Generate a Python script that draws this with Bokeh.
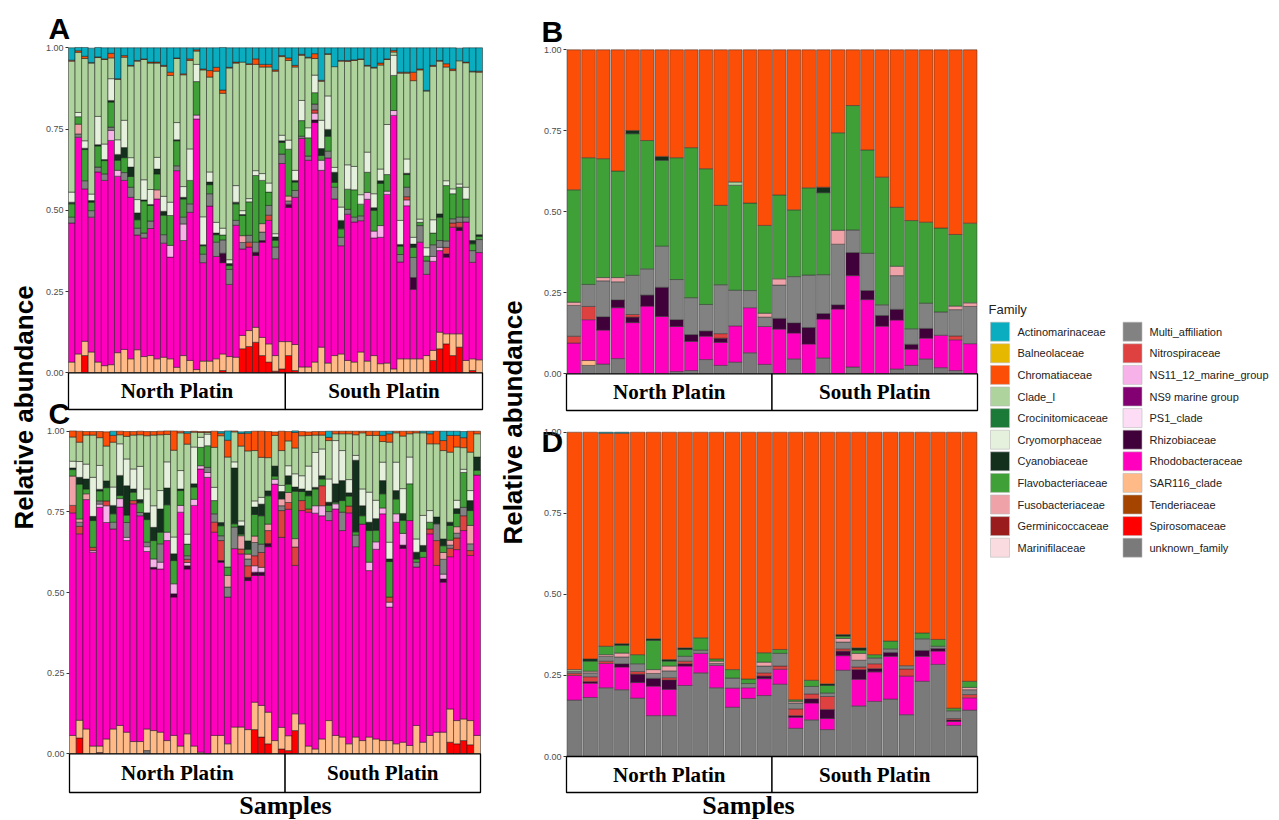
import math
from bokeh.plotting import figure
from bokeh.models import (Range1d, NumeralTickFormatter, FixedTicker, ColumnDataSource,
                          LinearAxis)
from bokeh.core.properties import value
from bokeh.embed import file_html
from bokeh.resources import INLINE

# ---------------- legend / families ----------------
FAMILIES = ["Actinomarinaceae", "Balneolaceae", "Chromatiaceae", "Clade_I", "Crocinitomicaceae",
            "Cryomorphaceae", "Cyanobiaceae", "Flavobacteriaceae", "Fusobacteriaceae",
            "Germinicoccaceae", "Marinifilaceae", "Multi_affiliation", "Nitrospiraceae",
            "NS11_12_marine_group", "NS9 marine group", "PS1_clade", "Rhizobiaceae",
            "Rhodobacteraceae", "SAR116_clade", "Tenderiaceae", "Spirosomaceae", "unknown_family"]
COLORS = ["#0AADBF", "#E7B800", "#FC4E07", "#AED39C", "#1B7A37",
          "#E6F1DD", "#12301C", "#3FA037", "#EFA3A8",
          "#9B1C1C", "#FADCE0", "#828282", "#DF4040",
          "#F8B2EA", "#820071", "#FCDDF5", "#40003A",
          "#FF00BF", "#FFBA88", "#A54400", "#FF0000", "#7A7A7A"]
GROUPS = ["North Platin", "South Platin"]

# ---------------- Panel A (33 North + 30 South samples) ----------------
A_counts = [33, 30]
A_actino = [.038,.010,.027,.044,.029,.034,.017,.095,.024,.054,.039,.034,.044,.044,.054,.075,.031,.080,.034,.006,.065,.070,.060,.131,.060,.044,.044,.049,.034,.051,.051,.068,.024,
            .031,.054,.020,.029,.018,.100,.018,.058,.039,.039,.037,.034,.054,.060,.047,.034,.008,.075,.075,.075,.065,.131,.054,.039,.049,.065,.039,.044,.072,.072]
A_chromat = [.003,.005,.007,.002,.002,.002,.014,.002,.005,.002,.002,.002,.003,.003,.003,.010,.002,.003,.005,.004,.003,.020,.012,.010,.002,.003,0,.002,.017,.008,.008,.004,.003,
             .008,.005,.003,.002,.015,.003,.002,0,.002,.003,.002,.002,.002,.002,.006,.002,.005,.003,.003,.026,.003,.002,.003,.002,.010,.005,0,.002,.002,.003]
A_clade = [.403,.185,.253,.403,.181,.260,.064,.186,.194,.282,.426,.370,.389,.290,.400,.390,.197,.344,.272,.041,.452,.292,.465,.415,.590,.377,.457,.413,.327,.328,.357,.500,.242,
           .245,.318,.139,.215,.051,.120,.128,.310,.449,.318,.326,.416,.265,.387,.320,.200,.010,.453,.264,.482,.459,.482,.472,.470,.350,.364,.379,.383,.519,.500]
A_cryo = [.031,.013,.023,.020,.087,.048,.067,.045,.084,.029,.041,.062,.046,.036,.046,.041,.053,.033,.097,.053,.086,.031,.033,.021,.012,.051,.012,.010,.015,.021,.028,.010,.017,
          .028,.031,.062,.031,.054,.087,.103,.015,.041,.075,.072,.029,.062,.043,.036,.154,.062,.074,.044,.021,.010,.026,.041,0,.015,.015,.010,.036,0,0]
A_cyano = [.005,0,.004,.005,.004,.003,.005,.018,.031,.029,.021,.003,.003,.015,.012,0,.003,.005,0,0,.003,.008,.005,0,.006,.005,.003,0,0,0,0,.010,.005,
           0,.005,0,0,0,.021,.021,.031,.026,0,0,0,0,.008,.008,0,0,.005,.004,.010,0,0,0,.010,0,0,0,0,.010,.005]
A_flavo = [.041,.023,.096,.026,.065,.041,.077,.031,.046,.033,.026,.099,.048,.049,.060,.092,.077,.056,.072,.103,.026,.028,.023,.015,.012,.051,.062,.103,.205,.133,.041,.021,.036,
           .144,.026,.048,.056,.035,.015,.046,.015,.026,.062,.084,.036,.062,.064,.130,.051,.108,.026,.039,.031,.010,.015,.036,.072,.170,.077,.092,.056,.021,.010]
A_fuso = [0,.030,0,0,0,0,0,0,0,0,0,0,0,.028,0,0,0,0,0,0,0,0,0,0,0,0,.021,0,0,.026,0,0,0,
          .015,0,0,0,0,0,0,0,0,0,0,0,0,0,0,0,0,0,0,0,0,0,0,0,0,0,0,0,0,0]
A_multi = [.018,.010,.025,.020,.015,.020,.010,0,.024,.031,.021,.015,.023,0,.026,0,.015,.021,.026,0,.026,.038,.044,.041,.046,.015,.020,.021,.031,.026,.030,.036,.029,
           .010,.021,.007,.013,.018,0,.021,.036,.026,.015,.015,.015,0,0,0,0,0,.023,.029,.062,.051,.041,.036,.021,.020,.013,.016,.015,.036,.040]
A_nitro = [0,0,0,0,0,0,0,0,0,0,0,0,0,0,0,0,0,0,0,0,0,0,0,0,0,0,0,.015,0,0,.016,0,0,
           0,0,0,0,.010,0,0,0,0,0,0,0,0,0,0,0,0,0,.010,0,0,0,0,0,.020,.013,.015,0,0,0]
A_ns11 = [0,0,0,0,0,0,.031,.018,0,0,0,0,0,0,0,.036,0,.051,0,.012,0,0,0,0,0,0,0,0,0,0,0,0,0,
          0,0,0,0,.021,.031,0,0,0,0,0,0,.021,.021,.036,.010,.015,0,.018,0,0,0,.015,.010,0,0,0,0,0,0]
A_rhizo = [0,0,0,0,0,0,0,0,0,0,0,0,0,0,0,0,0,0,0,0,0,0,0,.029,0,0,0,0,.010,.005,0,0,0,
           .010,0,0,0,.008,0,0,0,0,0,0,0,0,0,0,0,0,0,0,.036,0,0,0,0,.010,0,.010,0,0,0]
A_rhodo = [.428,.667,.469,.415,.585,.570,.690,.543,.520,.497,.353,.365,.391,.492,.351,.313,.605,.354,.456,.771,.303,.477,.315,.281,.222,.406,.266,.257,.221,.293,.380,.298,.548,
           .413,.453,.703,.636,.737,.544,.631,.482,.333,.450,.431,.404,.498,.362,.389,.519,.780,.298,.471,.214,.359,.250,.274,.251,.236,.328,.318,.426,.297,.330]
A_sar116 = [.033,.058,.044,.064,.033,.022,.025,.062,.072,.043,.071,.050,.053,.043,.048,.043,.017,.053,.038,.010,.036,.036,.043,.051,.050,.048,.041,.049,.046,.056,.056,.048,.084,
            .043,.080,.018,.018,.033,.079,.030,.053,.058,.038,.033,.064,.036,.053,.028,.030,.012,.043,.043,.043,.043,.053,.031,.051,.031,.067,.041,.038,.036,.040]
A_spiro = [0,0,.053,0,0,0,0,0,0,0,0,0,0,0,0,0,0,0,0,0,0,0,0,.007,0,0,.074,.081,.094,.053,.033,.005,.012,
           .053,.007,0,0,0,0,0,0,0,0,0,0,0,0,0,0,0,0,0,0,0,0,.038,.074,.089,.053,.079,0,.007,0]

# ---------------- Panel C (32 North + 29 South samples) ----------------
C_counts = [32, 29]
C_actino = [0,0,0,0,0,0,.013,0,0,0,0,0,0,0,0,0,0,.005,0,0,0,0,.005,.029,0,.005,.005,0,0,0,0,0,
            0,.005,0,0,0,0,.019,0,0,0,0,0,0,0,.013,.008,0,0,0,0,.005,.008,0,.029,.013,.013,.019,0,0]
C_chromat = [.019,.034,.011,.011,.019,.044,.021,.011,.015,.011,.011,.013,.011,.011,.011,.060,.005,.034,.003,.003,.003,.050,.008,.052,.003,.039,.055,.060,.081,.081,.011,.060,
             .029,.048,.013,.011,.011,.011,.010,.008,.008,.008,.011,.005,.013,.013,.019,.026,.005,.015,.008,.005,0,.031,.039,.031,.052,.036,.031,.065,.008]
C_clade = [.075,.060,.090,.131,.086,.108,.139,.028,.070,.105,.098,.165,.219,.173,.085,.269,.117,.279,.046,.015,.005,.124,.269,.341,.093,.232,.279,.156,.124,.103,.095,.108,
           .077,.080,.124,.095,.054,.043,.119,.021,.052,.142,.064,.174,.176,.201,.064,.310,.091,.163,.072,.329,.256,.207,.227,.274,.217,.165,.067,.119,.072]
C_cryo = [.021,.049,.046,.121,.074,0,.057,.098,.083,.062,.103,.074,.067,.057,.081,.052,.057,.031,.114,.031,.036,.041,0,0,.019,.015,0,.019,.021,0,0,.019,
          .031,.041,.041,.077,.108,.083,.072,.134,.093,.041,.015,.052,.093,.057,.057,.052,.088,.077,.083,.041,.093,.036,0,0,0,.026,.010,.031,0]
C_cyano = [.005,.021,.031,.013,.005,.021,.026,.062,.091,.010,.010,.021,.041,.072,.052,.021,.005,0,.010,0,0,0,.010,0,.173,.026,.026,.023,.036,.015,.031,.023,
           .026,.013,.008,.015,.005,.010,.010,.057,.062,.010,.222,.031,.026,.036,.041,.008,.026,.021,0,.021,.019,0,.021,.021,.010,.015,0,.031,.041]
C_flavo = [.020,.108,.015,.083,.031,.041,.026,.010,.023,.026,.030,.070,.057,.036,.085,.072,.046,.036,.038,.057,.067,.041,.031,.026,.010,.005,.015,.067,.088,.088,.010,0,
           .026,.147,.028,.041,.052,.021,.019,.005,.036,.031,.010,.026,.098,.036,.044,.110,.046,.041,.114,.010,.018,.021,0,.021,.046,.041,.108,.046,.015]
C_fuso = [.091,.010,.018,0,0,0,0,0,0,0,0,0,0,0,0,0,0,0,0,0,0,0,0,.036,0,.041,.015,.020,0,.020,0,.021,
          .031,.026,0,0,0,0,0,0,0,0,0,0,0,0,0,0,0,0,0,0,0,0,0,.021,.015,.020,0,.057,0]
C_multi = [0,.013,0,0,.010,0,.021,0,.046,0,.010,.014,0,.057,0,0,0,.011,0,0,.016,.026,.015,.031,.067,0,.021,.041,.026,0,0,.015,
           0,0,0,0,0,0,.028,0,.057,0,.036,0,0,0,0,0,0,0,0,.015,0,0,.052,.046,.010,.015,.026,.021,0]
C_nitro = [.023,.023,0,.010,0,.015,0,0,0,.010,0,0,0,0,0,0,0,.010,0,0,0,.031,.062,0,0,.015,.036,.031,.046,.040,0,.083,
           .021,.057,.031,.010,0,.062,0,0,0,.021,0,0,0,0,0,.016,0,0,0,0,0,.015,.077,0,.026,.036,.046,.015,0]
C_ns11 = [0,0,0,.005,.010,.052,0,.026,.010,0,0,.015,.026,.021,.026,.031,.021,.010,.019,.010,.015,0,0,0,0,0,0,.020,.015,0,.015,0,
          0,0,0,0,.023,.031,0,.016,0,0,0,0,.026,.023,.018,.015,.026,.036,0,0,0,0,0,.015,0,0,0,0,0]
C_rhizo = [0,0,0,0,0,0,0,0,0,0,0,0,.005,0,0,.010,0,.010,0,0,0,0,.005,0,0,0,.010,.010,.010,.010,0,0,
           0,0,0,0,0,0,0,0,0,0,0,0,0,0,0,0,0,.010,0,0,0,0,0,.010,0,0,0,0,0]
C_rhodo = [.690,.578,.711,.601,.740,.671,.620,.677,.594,.737,.700,.550,.501,.506,.620,.429,.725,.511,.746,.878,.857,.630,.537,.455,.553,.537,.462,.393,.403,.513,.795,.589,
           .702,.460,.661,.725,.731,.692,.620,.702,.640,.716,.590,.671,.516,.588,.703,.414,.687,.601,.697,.491,.573,.625,.517,.465,.472,.530,.584,.512,.807]
C_sar116 = [.057,.055,.077,.024,.020,.046,.077,.088,.067,.038,.038,.067,.072,.067,.041,.057,.024,.062,.024,.005,0,.057,.057,.031,.083,.083,.075,.085,.098,.098,.041,.067,
            .046,.052,.093,.024,.015,.046,.103,.057,.052,.031,.052,.041,.052,.046,.041,.041,.031,.036,.026,.088,.036,.057,.067,.067,.103,.072,.067,.075,.057]
C_spiro = [0,.049,0,0,.004,0,0,0,0,0,0,0,0,0,0,0,0,0,0,0,0,0,0,0,0,0,0,.075,.052,.031,0,.015,
           .010,.072,0,0,0,0,0,0,0,0,0,0,0,0,0,0,0,0,0,0,0,0,0,0,.036,.031,.041,.028,0]
C_unknown = [0,0,0,0,0,0,0,0,0,0,0,.010,0,0,0,0,0,0,0,0,0,0,0,0,0,0,0,0,0,0,0,0,
             0,0,0,0,0,0,0,0,0,0,0,0,0,0,0,0,0,0,0,0,0,0,0,0,0,0,0,0,0]

# ---------------- Panel B (14 North + 14 South samples) ----------------
B_counts = [14, 14]
B_chromat = [.432,.333,.336,.374,.249,.280,.329,.333,.302,.367,.480,.408,.473,.542,
             .448,.494,.426,.424,.256,.172,.309,.393,.486,.527,.532,.550,.570,.535]
B_clade = [0,0,0,0,0,0,0,0,0,0,0,.010,0,0, 0,0,0,0,0,0,0,0,0,0,0,0,0,0]
B_cyano = [0,0,0,0,.010,0,.012,0,0,0,0,0,0,0, 0,0,0,.017,0,0,0,0,0,0,0,0,0,0]
B_flavo = [.347,.391,.367,.329,.437,.396,.265,.376,.463,.419,.245,.324,.270,.271,
           .259,.206,.269,.253,.301,.384,.319,.394,.182,.334,.250,.259,.221,.246]
B_fuso = [.010,0,.010,.013,0,0,0,0,0,0,0,0,0,.012, .019,0,0,0,.043,0,0,0,.029,0,0,0,.011,.011]
B_multi = [.095,.068,.111,.056,.121,.081,.127,.124,.114,.082,.151,.110,.053,.029,
           .103,.143,.162,.120,.187,.070,.115,.033,.104,.048,.078,.072,.081,.115]
B_nitro = [.021,.041,0,0,.008,0,0,0,0,0,.014,0,0,0, 0,0,0,0,0,0,0,0,0,0,0,0,.012,0]
B_rhizo = [0,0,.041,.024,.017,.034,.090,.021,.021,.016,.013,0,0,0,
           .033,.031,.051,.017,.013,.071,.028,.033,.033,.015,.030,0,0,0]
B_rhodo = [.095,.126,.105,.157,.158,.209,.177,.139,.090,.072,.071,.112,.139,.117,
           .138,.080,.092,.120,.200,.282,.229,.147,.151,.050,.064,.100,.095,.093]
B_sar116 = [0,.015,0,0,0,0,0,0,0,0,0,0,0,0, 0,0,0,0,0,0,0,0,0,0,0,0,0,0]
B_unknown = [0,.026,.030,.047,0,0,0,.007,.010,.044,.026,.036,.065,.029,
             0,.046,0,.049,0,.021,0,0,.015,.026,.046,.019,.010,0]

# ---------------- Panel D (13 North + 13 South samples) ----------------
D_counts = [13, 13]
D_actino = [0,0,.003,.003,0,0,0,0,0,0,0,0,0, 0,0,0,0,0,0,0,0,0,0,0,0,0]
D_chromat = [.732,.699,.657,.649,.686,.637,.701,.665,.634,.699,.732,.761,.680,
             .670,.825,.765,.776,.624,.665,.686,.644,.720,.619,.639,.851,.768]
D_clade = [.005,0,0,0,0,0,0,0,0,0,0,0,0, 0,0,0,0,0,0,0,0,0,0,0,0,0]
D_cyano = [0,.007,0,.005,0,.005,.005,.005,0,0,0,0,0, 0,0,0,.005,.005,.007,0,0,0,0,0,0,0]
D_flavo = [0,.031,.026,.024,.028,.090,.015,.021,.038,.007,.026,.014,.029,
           .012,.005,.019,.023,.007,.010,.010,.024,0,.018,.021,.008,.019]
D_fuso = [0,.005,.005,.012,0,.012,.015,0,0,.007,0,0,.012, 0,.005,0,0,.011,.021,0,0,0,0,0,0,.007]
D_multi = [.006,.012,.015,.021,.024,.015,.021,.015,.010,.006,.031,.013,.021,
           .039,.018,.023,.011,.021,.021,.018,.011,.010,.036,.007,.024,.015]
D_nitro = [.007,.015,.007,0,.008,0,.007,.008,0,0,0,0,.010, .010,.021,.015,.040,.007,.008,.015,0,.022,0,0,.004,.010]
D_rhizo = [0,.005,0,.010,.026,.024,.029,.007,0,0,0,0,.008, 0,.005,.013,.028,.014,.030,.010,.012,0,.018,.008,.005,0]
D_rhodo = [.076,.044,.075,.070,.048,.091,.081,.060,.060,.069,.059,.033,.052,
           .046,.034,.052,.034,.045,.082,.091,.132,.119,.077,.041,.012,.038]
D_unknown = [.174,.182,.212,.206,.180,.126,.126,.219,.258,.212,.152,.179,.188,
             .223,.087,.113,.083,.266,.156,.170,.177,.129,.232,.284,.096,.143]

COLOR = dict(zip(FAMILIES, COLORS))
SANS = "Liberation Sans"
SERIF = "Liberation Serif"

# ---------------- one canvas; base ranges are window pixels ----------------
PX0, PX1, PY0, PY1 = 0, 1276, 0, 819
W, H = PX1 - PX0, PY1 - PY0


def sy(y_screen):
    return PY0 + PY1 - y_screen          # window y (down) -> base data y (up)


p = figure(width=W, height=H, x_range=Range1d(PX0, PX1), y_range=Range1d(PY0, PY1),
           output_backend="svg", toolbar_location=None, x_axis_location=None,
           y_axis_location=None, min_border=0)
p.grid.visible = False
p.outline_line_color = None
p.background_fill_color = "white"
p.border_fill_color = "white"


def panel(key, series, counts, x_left, x_right, y_one, y_zero, strip_bottom, bar_w, line_col):
    n = sum(counts)
    w = (x_right - x_left) / n                       # pixels per bar
    s = y_zero - y_one                               # pixels per unit of abundance
    p.extra_x_ranges[key + "x"] = Range1d(-0.5 - (x_left - PX0) / w, -0.5 + (PX1 - x_left) / w)
    p.extra_y_ranges[key + "y"] = Range1d(-(PY1 - y_zero) / s, (y_zero - PY0) / s)
    xr, yr = key + "x", key + "y"

    ax = LinearAxis(y_range_name=yr, fixed_location=x_left,
                    ticker=FixedTicker(ticks=[0, 0.25, 0.5, 0.75, 1.0]),
                    formatter=NumeralTickFormatter(format="0.00"))
    ax.axis_line_color = None
    ax.major_tick_out = 3
    ax.major_tick_in = 0
    ax.minor_tick_out = 0
    ax.minor_tick_in = 0
    ax.major_tick_line_color = "#333333"
    ax.major_label_text_font_size = "9px"
    ax.major_label_text_color = "#4d4d4d"
    ax.major_label_text_font = SANS
    ax.major_label_standoff = 2
    p.add_layout(ax, "left")

    xs, bots, tops, cols = [], [], [], []
    for i in range(n):
        acc = 0.0
        for fam in reversed(FAMILIES):
            arr = series.get(fam)
            if arr is None or arr[i] <= 0:
                continue
            xs.append(i)
            bots.append(acc)
            tops.append(acc + arr[i])
            cols.append(COLOR[fam])
            acc += arr[i]
    src = ColumnDataSource(dict(x=xs, bottom=bots, top=tops, color=cols))
    p.vbar(x="x", bottom="bottom", top="top", width=bar_w, fill_color="color",
           line_color=line_col, line_width=0.5, source=src, x_range_name=xr, y_range_name=yr)

    sb = -(strip_bottom - y_zero) / s
    start = 0
    for g, cnt in zip(GROUPS, counts):
        p.quad(left=[start - 0.5], right=[start + cnt - 0.5], bottom=[sb], top=[0],
               fill_color="white", line_color="black", line_width=1.3,
               x_range_name=xr, y_range_name=yr)
        p.text(x=[start + (cnt - 1) / 2.0], y=[sb / 2.0], text=[g],
               text_font=value(SERIF), text_font_style="bold", text_font_size="21px",
               text_align="center", text_baseline="middle", text_color="black",
               x_range_name=xr, y_range_name=yr)
        start += cnt


A_series = {"Actinomarinaceae": A_actino, "Chromatiaceae": A_chromat, "Clade_I": A_clade,
            "Cryomorphaceae": A_cryo, "Cyanobiaceae": A_cyano, "Flavobacteriaceae": A_flavo,
            "Fusobacteriaceae": A_fuso, "Multi_affiliation": A_multi, "Nitrospiraceae": A_nitro,
            "NS11_12_marine_group": A_ns11, "Rhizobiaceae": A_rhizo, "Rhodobacteraceae": A_rhodo,
            "SAR116_clade": A_sar116, "Spirosomaceae": A_spiro}
C_series = {"Actinomarinaceae": C_actino, "Chromatiaceae": C_chromat, "Clade_I": C_clade,
            "Cryomorphaceae": C_cryo, "Cyanobiaceae": C_cyano, "Flavobacteriaceae": C_flavo,
            "Fusobacteriaceae": C_fuso, "Multi_affiliation": C_multi, "Nitrospiraceae": C_nitro,
            "NS11_12_marine_group": C_ns11, "Rhizobiaceae": C_rhizo, "Rhodobacteraceae": C_rhodo,
            "SAR116_clade": C_sar116, "Spirosomaceae": C_spiro, "unknown_family": C_unknown}
B_series = {"Chromatiaceae": B_chromat, "Clade_I": B_clade, "Cyanobiaceae": B_cyano,
            "Flavobacteriaceae": B_flavo, "Fusobacteriaceae": B_fuso, "Multi_affiliation": B_multi,
            "Nitrospiraceae": B_nitro, "Rhizobiaceae": B_rhizo, "Rhodobacteraceae": B_rhodo,
            "SAR116_clade": B_sar116, "unknown_family": B_unknown}
D_series = {"Actinomarinaceae": D_actino, "Chromatiaceae": D_chromat, "Clade_I": D_clade,
            "Cyanobiaceae": D_cyano, "Flavobacteriaceae": D_flavo, "Fusobacteriaceae": D_fuso,
            "Multi_affiliation": D_multi, "Nitrospiraceae": D_nitro, "Rhizobiaceae": D_rhizo,
            "Rhodobacteraceae": D_rhodo, "unknown_family": D_unknown}

#     key  series    counts    x_left x_right y(1.0) y(0.0) strip_bottom
panel("A", A_series, A_counts, 68, 482, 47.3, 372.3, 409, 1.0, "#1a1a1a")
panel("C", C_series, C_counts, 69, 480, 430.7, 753.3, 792, 1.0, "#1a1a1a")
panel("B", B_series, B_counts, 566, 977, 49.3, 373.3, 410, 0.93, "#333333")
panel("D", D_series, D_counts, 566, 977, 431.7, 756.0, 792, 0.93, "#333333")

# panel letters (vertically centred on their capitals)
p.text(x=[48, 541, 48, 541], y=[sy(28), sy(30.5), sy(413), sy(441)], text=["A", "B", "C", "D"],
       text_font=value(SANS), text_font_style="bold", text_font_size="30px",
       text_align="left", text_baseline="middle", text_color="black")
# x titles
p.text(x=[285, 748], y=[sy(805), sy(805)], text=["Samples", "Samples"],
       text_font=value(SERIF), text_font_style="bold", text_font_size="26px",
       text_align="center", text_baseline="middle", text_color="black")
# y titles
p.text(x=[23, 512], y=[sy(407), sy(422)], text=["Relative abundance", "Relative abundance"],
       angle=math.pi / 2, text_font=value(SANS), text_font_style="bold", text_font_size="26px",
       text_align="center", text_baseline="middle", text_color="black")

# legend
kx, ky, tx = [], [], []
for i, fam in enumerate(FAMILIES):
    c, r = divmod(i, 11)
    kx.append(999.5 + c * 132.5)
    ky.append(sy(331.2 + r * 21.6))
    tx.append(1017 + c * 132)
p.rect(x=kx, y=ky, width=19, height=19, fill_color=COLORS, line_color="#bbbbbb", line_width=0.6)
p.text(x=tx, y=ky, text=FAMILIES, text_font=value(SANS), text_font_size="11px",
       text_baseline="middle", text_align="left", text_color="#222222")
p.text(x=[988], y=[sy(308.5)], text=["Family"], text_font=value(SANS), text_font_size="13px",
       text_baseline="middle", text_align="left", text_color="#222222")

open("out.html", "w").write(file_html(p, INLINE))
